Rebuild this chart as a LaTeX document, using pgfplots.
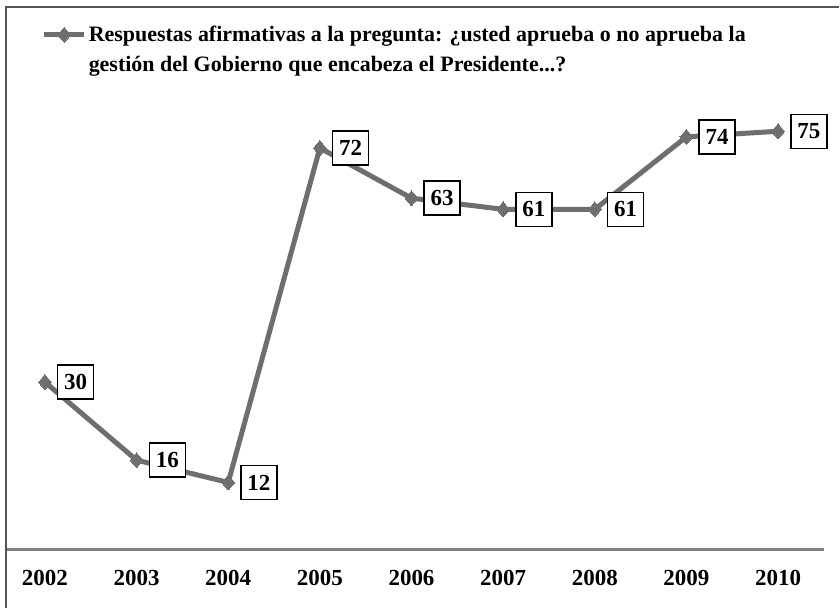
\documentclass[border=0pt]{standalone}
\usepackage{pgfplots}
\pgfplotsset{compat=1.18}
\usepackage{fontspec}
\setmainfont{Liberation Serif}
\definecolor{lg}{HTML}{6E6E6E}
\definecolor{fr}{HTML}{555555}
\begin{document}
\begin{tikzpicture}
\begin{axis}[
  scale only axis, width=834pt, height=543pt,
  xmin=2001.575, xmax=2010.665, ymin=0, ymax=97.3,
  axis line style={draw=none}, major tick length=0pt,
  xtick={2002,2003,2004,2005,2006,2007,2008,2009,2010},
  xticklabels={2002,2003,2004,2005,2006,2007,2008,2009,2010},
  ytick=\empty,
  /pgf/number format/assume math mode=true,
  xticklabel style={font=\fontsize{23}{26}\selectfont\bfseries, yshift=-17pt},
  clip=false,
  legend style={draw=none, fill=none, at={(0.043,0.968)}, anchor=north west,
    inner sep=0pt, outer sep=0pt, font=\fontsize{22}{30}\selectfont\bfseries},
  legend cell align=left,
  legend image code/.code={\draw[#1, mark repeat=2, mark phase=2] plot coordinates {(0pt,0pt) (20pt,0pt) (40pt,0pt)};},
  nodes near coords={\pgfmathprintnumber[assume math mode=true]{\pgfplotspointmeta}},
  every node near coord/.style={anchor=west, xshift=12pt, draw=black, line width=1.5pt,
    fill=white, text=black, font=\fontsize{23}{26}\selectfont\bfseries,
    minimum width=36pt, minimum height=34pt, inner sep=0pt},
]
\addplot[color=lg, line width=5pt, mark=diamond*, mark size=7.5pt, mark options={fill=lg, line width=0pt, xscale=1.15}]
coordinates {(2002,30) (2003,16) (2004,12) (2005,72) (2006,63) (2007,61) (2008,61) (2009,74) (2010,75)};
\addlegendentry{\parbox[t]{720pt}{Respuestas afirmativas a la pregunta: ¿usted aprueba o no aprueba la\\gestión del Gobierno que encabeza el Presidente...?}}
\draw[line width=3pt, color=gray] (axis cs:2001.575,0) -- (axis cs:2010.5,0);
\draw[line width=2pt, color=fr] ([yshift=-59pt]rel axis cs:0,0) -- (rel axis cs:0,1) -- (rel axis cs:1,1);
\path ([xshift=-6pt,yshift=7pt]rel axis cs:0,1) -- ([yshift=-59pt]rel axis cs:1,0);
\end{axis}
\end{tikzpicture}
\end{document}
